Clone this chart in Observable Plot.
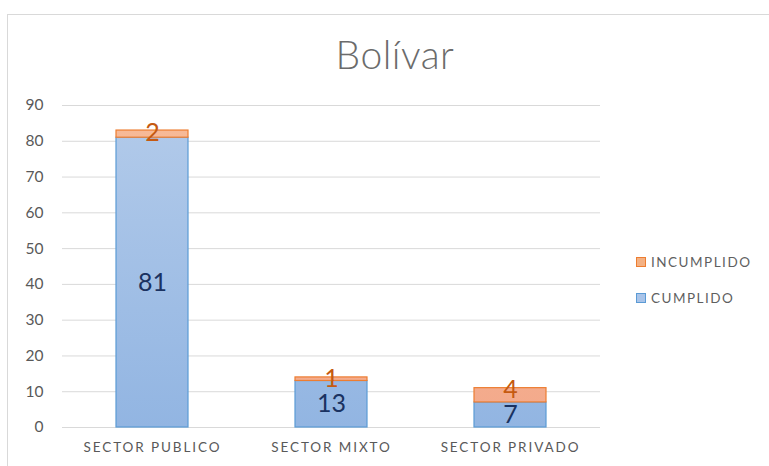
<!DOCTYPE html>
<html><head><meta charset="utf-8">
<script src="https://cdn.jsdelivr.net/npm/d3@7"></script>
<script src="https://cdn.jsdelivr.net/npm/@observablehq/plot@0.6"></script>
<style>
body{margin:0;background:#fff;font-family:Lato,"Open Sans",sans-serif;}
#wrap{position:relative;width:769px;height:466px;overflow:hidden;}
#border{position:absolute;left:7px;top:14px;width:800px;height:500px;border:1px solid #d9d9d9;box-sizing:border-box;}
#title{position:absolute;left:0;width:790px;top:31px;text-align:center;font-size:39px;font-weight:300;color:#6b6b6b;font-family:Lato,sans-serif;letter-spacing:0.5px}
.leg{position:absolute;left:636px;font-size:13.5px;color:#5f5f5f;display:flex;align-items:center;letter-spacing:1.5px}
.sw{width:10px;height:10px;margin-right:5px;box-sizing:border-box;}
#chart{position:absolute;left:0;top:0;}
.xax text{letter-spacing:1.9px}
</style></head>
<body><div id="wrap"><div id="border"></div><div id="title">Bolívar</div>
<div class="leg" style="top:254px"><div class="sw" style="background:#f4b183;border:1px solid #ed7d31"></div>INCUMPLIDO</div>
<div class="leg" style="top:290px"><div class="sw" style="background:#a9c4e9;border:1px solid #5b9bd5"></div>CUMPLIDO</div>
<div id="chart"></div></div>
<script>
const categories = ["SECTOR PUBLICO","SECTOR MIXTO","SECTOR PRIVADO"];
const cumplido = [81,13,7];
const incumplido = [2,1,4];
const yTicks = [0,10,20,30,40,50,60,70,80,90];

const rows = [];
categories.forEach((c,i)=>{
  rows.push({cat:c, serie:"CUMPLIDO", y1:0, y2:cumplido[i], v:cumplido[i]});
  rows.push({cat:c, serie:"INCUMPLIDO", y1:cumplido[i], y2:cumplido[i]+incumplido[i], v:incumplido[i]});
});
const blue = rows.filter(d=>d.serie==="CUMPLIDO");
const orange = rows.filter(d=>d.serie==="INCUMPLIDO");

const plot = Plot.plot({
  width:769, height:466,
  marginLeft:62, marginRight:169, marginTop:105, marginBottom:39,
  style:{fontFamily:"Lato, sans-serif", background:"transparent"},
  x:{domain:categories, paddingInner:0.6, paddingOuter:0.3, label:null},
  y:{domain:[0,90], label:null},
  marks:[
    Plot.ruleY(yTicks,{stroke:"#d9d9d9", strokeWidth:1}),
    Plot.axisY({ticks:yTicks, tickSize:0, tickPadding:19, fontSize:15.5, fill:"#595959", color:"#595959", label:null}),
    Plot.axisX({tickSize:0, tickPadding:15, fontSize:13.5, fill:"#595959", color:"#595959", label:null, className:"xax"}),
    Plot.rectY(blue,{x:"cat", y1:"y1", y2:"y2", fill:"url(#gBlue)", stroke:"#5b9bd5", strokeWidth:1.2}),
    Plot.rectY(orange,{x:"cat", y1:"y1", y2:"y2", fill:"url(#gOrange)", stroke:"#ed7d31", strokeWidth:1.2}),
    Plot.text(blue,{x:"cat", y:d=>(d.y1+d.y2)/2, text:"v", fill:"#1a3261", fontSize:25}),
    Plot.text(orange,{x:"cat", y:"y2", dy:2, text:"v", fill:"#c55a11", fontSize:25})
  ]
});
const ns="http://www.w3.org/2000/svg";
const defs=document.createElementNS(ns,"defs");
defs.innerHTML = `
<linearGradient id="gBlue" gradientUnits="userSpaceOnUse" x1="0" y1="105" x2="0" y2="427">
<stop offset="0" stop-color="#b3cbea"/><stop offset="1" stop-color="#92b5e2"/></linearGradient>
<linearGradient id="gOrange" gradientUnits="userSpaceOnUse" x1="0" y1="105" x2="0" y2="427">
<stop offset="0" stop-color="#f7bb98"/><stop offset="1" stop-color="#f3a98b"/></linearGradient>`;
plot.insertBefore(defs, plot.firstChild);
document.getElementById("chart").appendChild(plot);
</script></body></html>
